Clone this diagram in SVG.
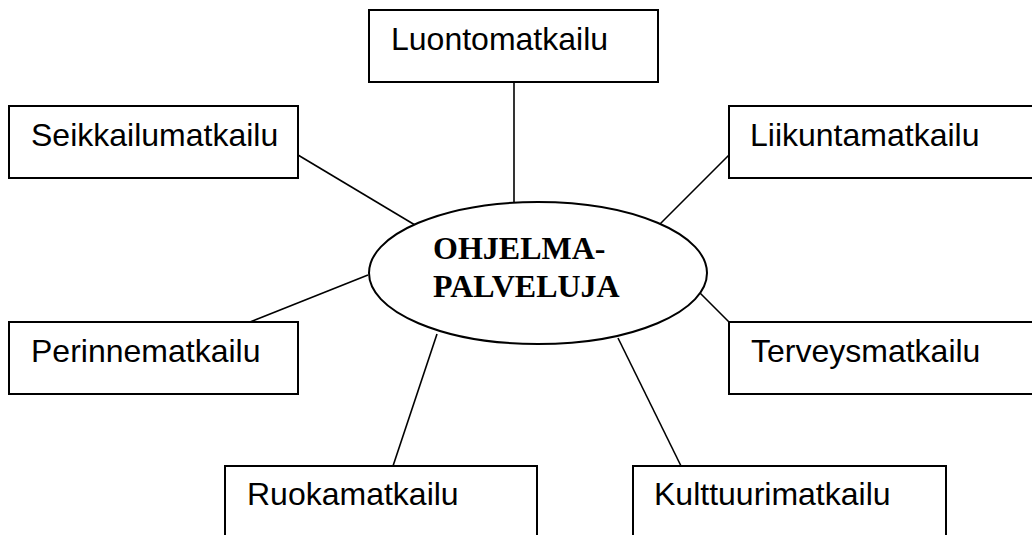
<svg xmlns="http://www.w3.org/2000/svg" width="1032" height="535" viewBox="0 0 1032 535">
<style>
.box{fill:#fff;stroke:#000;stroke-width:2}
.lbl{font-family:"Liberation Sans",Arial,sans-serif;font-size:32px;fill:#000}
.ctr{font-family:"Liberation Serif","Times New Roman",serif;font-size:32px;font-weight:bold;fill:#000}
.conn line{stroke:#000;stroke-width:1.6}
</style>
<rect width="1032" height="535" fill="#fff"/>
<g id="connectors" class="conn">
<line x1="514" y1="82" x2="514" y2="202"/>
<line x1="298" y1="155" x2="415" y2="225"/>
<line x1="729" y1="155" x2="659" y2="225"/>
<line x1="250" y1="322" x2="368" y2="275"/>
<line x1="700" y1="293" x2="729" y2="322"/>
<line x1="437" y1="334" x2="393" y2="466"/>
<line x1="618" y1="338" x2="681" y2="466"/>
</g>
<g id="center">
<ellipse cx="538" cy="273" rx="169" ry="71" class="box"/>
<text x="433" y="259" class="ctr">OHJELMA-</text>
<text x="433" y="297" class="ctr">PALVELUJA</text>
</g>
<g id="luontomatkailu">
<rect x="369" y="10" width="289" height="72" class="box"/>
<text x="391" y="50" class="lbl">Luontomatkailu</text>
</g>
<g id="seikkailumatkailu">
<rect x="9" y="106" width="289" height="72" class="box"/>
<text x="31" y="146" class="lbl">Seikkailumatkailu</text>
</g>
<g id="liikuntamatkailu">
<rect x="729" y="106" width="320" height="72" class="box"/>
<text x="750" y="146" class="lbl">Liikuntamatkailu</text>
</g>
<g id="perinnematkailu">
<rect x="9" y="322" width="289" height="72" class="box"/>
<text x="31" y="362" class="lbl">Perinnematkailu</text>
</g>
<g id="terveysmatkailu">
<rect x="729" y="322" width="320" height="72" class="box"/>
<text x="751" y="362" class="lbl">Terveysmatkailu</text>
</g>
<g id="ruokamatkailu">
<rect x="225" y="466" width="312" height="90" class="box"/>
<text x="247" y="505" class="lbl">Ruokamatkailu</text>
</g>
<g id="kulttuurimatkailu">
<rect x="633" y="466" width="313" height="90" class="box"/>
<text x="654" y="505" class="lbl">Kulttuurimatkailu</text>
</g>
</svg>
